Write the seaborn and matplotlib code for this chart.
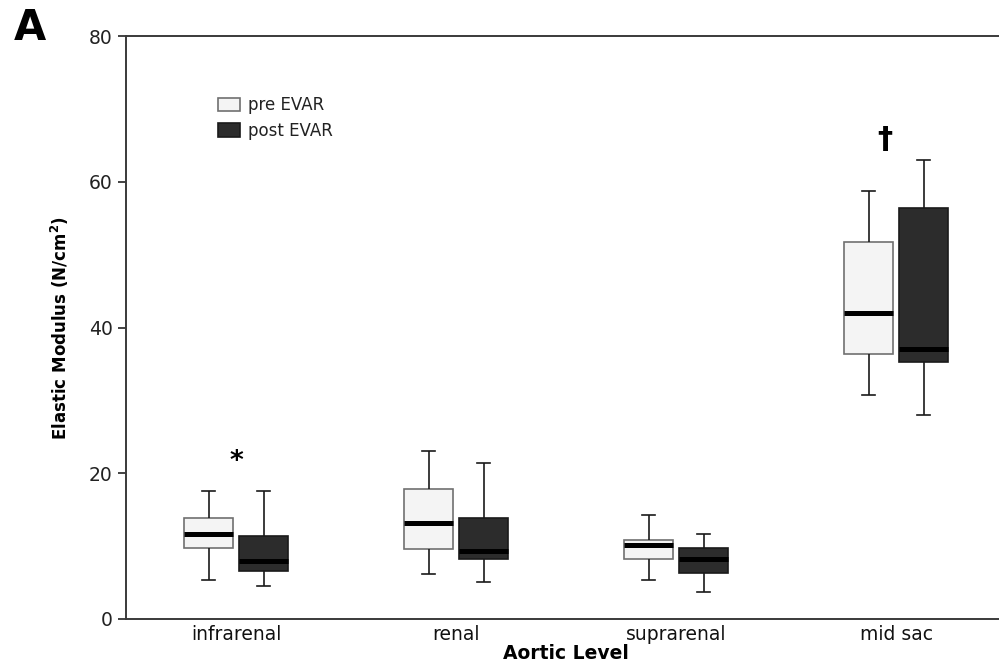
import matplotlib
matplotlib.use("Agg")
import matplotlib.pyplot as plt
from matplotlib.patches import Patch
import pandas as pd
import seaborn as sns

# Five-number summaries: min, q1, median, q3, max
levels = ["infrarenal", "renal", "suprarenal", "mid sac"]
groups = ["pre EVAR", "post EVAR"]
pre_evar = [
    [5.4, 9.8, 11.6, 13.9, 17.6],
    [6.2, 9.6, 13.2, 17.9, 23.1],
    [5.4, 8.3, 10.2, 10.9, 14.3],
    [30.7, 36.4, 42.0, 51.8, 58.7],
]
post_evar = [
    [4.5, 6.6, 8.0, 11.4, 17.5],
    [5.1, 8.2, 9.3, 13.9, 21.4],
    [3.7, 6.3, 8.2, 9.8, 11.6],
    [28.0, 35.3, 37.0, 56.4, 63.0],
]
yticks = [0, 20, 40, 60, 80]
# significance marks: (level index, y value, symbol)
marks = [(0, 21.6, "*"), (3, 65.8, "\u2020")]

rows = []
for name, series in zip(groups, [pre_evar, post_evar]):
    for lvl, vals in zip(levels, series):
        for v in vals:
            rows.append({"level": lvl, "group": name, "value": v})
df = pd.DataFrame(rows)

plt.rcParams["font.family"] = ["DejaVu Sans"]

fig = plt.figure(figsize=(9.99, 6.67), dpi=100)
ax = fig.add_axes([126 / 999, 48 / 667, 880 / 999, 583 / 667])

sns.boxplot(
    data=df, x="level", y="value", hue="group", order=levels, hue_order=groups,
    palette={"pre EVAR": "#f4f4f4", "post EVAR": "#2c2c2c"},
    width=0.5, gap=0.1, whis=(0, 100), linecolor="#1a1a1a", linewidth=1.2,
    medianprops=dict(color="black", linewidth=3.6, solid_capstyle="butt"),
    legend=False, ax=ax,
)

# lighter outline on the pre EVAR boxes, shorter whisker caps
for i, cont in enumerate(ax.containers):
    if i == 0:
        for box in cont.boxes:
            box.set_edgecolor("#707070")
    for cap in cont.caps:
        xs = cap.get_xdata()
        mid = (xs[0] + xs[1]) / 2
        cap.set_xdata([mid - 0.03, mid + 0.03])

ax.set_xlim(-0.5, 3.5)
ax.set_ylim(0, 80)
ax.set_yticks(yticks)
ax.tick_params(axis="y", length=6, width=1.2, colors="#222222", labelsize=13.5)
ax.tick_params(axis="x", length=0, labelsize=13.5, pad=4, colors="#111111")
for side in ["left", "bottom", "top"]:
    ax.spines[side].set_color("#3a3a3a")
    ax.spines[side].set_linewidth(1.4)
ax.spines["right"].set_visible(False)

ax.set_xlabel("Aortic Level", fontsize=13.5, fontweight="bold", labelpad=0)
ax.set_ylabel("Elastic Modulus (N/cm$^{\\mathbf{2}}$)", fontsize=12, fontweight="bold",
              labelpad=13)

for idx, yv, sym in marks:
    dx = 0 if sym == "*" else -0.05
    size = 19 if sym == "*" else 22
    ax.text(idx + dx, yv, sym, ha="center", va="center", fontsize=size, fontweight="bold")

handles = [Patch(facecolor="#f4f4f4", edgecolor="#707070", linewidth=1.2),
           Patch(facecolor="#2c2c2c", edgecolor="#1a1a1a", linewidth=1.2)]
ax.legend(handles, groups, loc="upper left", bbox_to_anchor=(0.095, 0.911),
          frameon=False, fontsize=12, handlelength=1.3, handleheight=0.9,
          handletextpad=0.5, labelspacing=0.45, borderpad=0, labelcolor="#222222")

fig.text(0.014, 0.94, "A", fontsize=30, fontweight="bold")

plt.savefig("out.png", dpi=100)
plt.close()
